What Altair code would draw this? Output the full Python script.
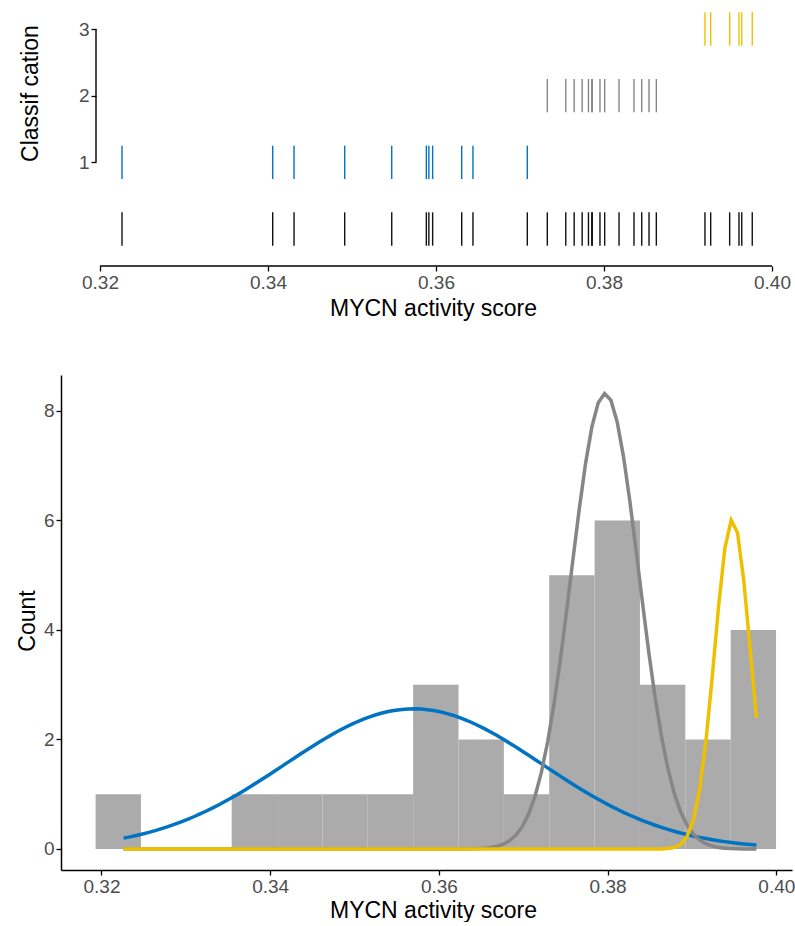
import altair as alt
import pandas as pd

# ---- data ----
class1_scores = [0.32262, 0.34056, 0.34310, 0.34913, 0.35473, 0.35885, 0.35915,
                 0.35960, 0.36306, 0.36440, 0.37087]
class2_scores = [0.37325, 0.37545, 0.37645, 0.37740, 0.37815, 0.37855, 0.37860,
                 0.37952, 0.38008, 0.38179, 0.38357, 0.38449, 0.38536, 0.38623]
class3_scores = [0.39202, 0.39270, 0.39496, 0.39607, 0.39640, 0.39765]
classes = [1, 2, 3]
class_colors = ["#0073C2", "#868686", "#EFC000"]

# fitted normal components (mean, sd, peak height in counts)
fit_means = [0.3570, 0.3797, 0.3948]
fit_sds = [0.0152, 0.0040, 0.0021]
fit_peaks = [2.56, 8.32, 6.02]
curve_points = 101

x_ticks = [0.32, 0.34, 0.36, 0.38, 0.40]
class_ticks = [1, 2, 3]
count_ticks = [0, 2, 4, 6, 8]
hist_start = 0.3193
hist_step = 0.005378
hist_bins = 15

FONT = "Liberation Sans"
W = 731
TOP_H = 261
BOT_H = 495

rows = []
for c, vals in zip(classes, [class1_scores, class2_scores, class3_scores]):
    for v in vals:
        rows.append({"score": v, "cls": c})
df = pd.DataFrame(rows)
xmin = float(df["score"].min())
xmax = float(df["score"].max())

color_scale = alt.Scale(domain=classes, range=class_colors)

# ---------------- top: rug plot ----------------
x_top = alt.Scale(domain=[0.315357, 0.402381], nice=False, zero=False)
y_top = alt.Scale(domain=[-0.555, 3.36], nice=False, zero=False)

rug_cls = alt.Chart(df).transform_calculate(
    lo="datum.cls - 0.25", hi="datum.cls + 0.25"
).mark_rule(strokeWidth=1.4).encode(
    x=alt.X("score:Q", scale=x_top,
            axis=alt.Axis(values=x_ticks, format=".2f", domain=False,
                          title="MYCN activity score", titlePadding=5,
                          titleX=372)),
    y=alt.Y("lo:Q", scale=y_top,
            axis=alt.Axis(values=class_ticks, format="d", domain=False, offset=-35,
                          title="Classif cation", titleX=-59, titleY=88,
                          titleBaseline="alphabetic")),
    y2="hi:Q",
    color=alt.Color("cls:N", scale=color_scale, legend=None),
)

rug_all = alt.Chart(df).transform_calculate(
    lo="-0.25", hi="0.25"
).mark_rule(strokeWidth=1.4, color="#111111").encode(
    x=alt.X("score:Q", scale=x_top),
    y=alt.Y("lo:Q", scale=y_top),
    y2="hi:Q",
)

one = alt.Data(values=[{"k": 0}])
x_axis_line = alt.Chart(one).mark_rule(color="black", strokeWidth=1.4).encode(
    x=alt.datum(x_ticks[0], scale=x_top), x2=alt.datum(x_ticks[-1]),
    y=alt.value(TOP_H),
)
y_axis_line = alt.Chart(one).mark_rule(color="black", strokeWidth=1.4).encode(
    x=alt.value(35),
    y=alt.datum(class_ticks[0], scale=y_top), y2=alt.datum(class_ticks[-1]),
)

top = alt.layer(rug_all, rug_cls, x_axis_line, y_axis_line).properties(
    width=W, height=TOP_H)

# ---------------- bottom: histogram + fitted curves ----------------
x_bot = alt.Scale(domain=[0.315199, 0.401862], nice=False, zero=False)
y_bot = alt.Scale(domain=[-0.3836, 8.6575], nice=False, zero=False)

hist = alt.Chart(df).transform_bin(
    "b", "score",
    bin=alt.Bin(extent=[hist_start, hist_start + hist_bins * hist_step],
                step=hist_step, nice=False),
).transform_aggregate(
    n="count()", groupby=["b", "b_end"]
).mark_rect(color="#ABABAB").encode(
    x=alt.X("b:Q", scale=x_bot,
            axis=alt.Axis(values=x_ticks, format=".2f",
                          title="MYCN activity score", titlePadding=3,
                          titleX=372)),
    x2="b_end:Q",
    y=alt.Y("n:Q", scale=y_bot,
            axis=alt.Axis(values=count_ticks, format="d", title="Count",
                          titleX=-27, titleY=BOT_H / 2 - 2,
                          titleBaseline="alphabetic")),
    y2=alt.datum(0),
)

curves = []
step = (xmax - xmin) / (curve_points - 1)
for i in range(3):
    mu, sd, pk = fit_means[i], fit_sds[i], fit_peaks[i]
    c = alt.Chart(alt.sequence(0, curve_points, as_="i")).transform_calculate(
        x=f"{xmin} + datum.i * {step}",
    ).transform_calculate(
        y=f"{pk} * exp(-pow(datum.x - {mu}, 2) / (2 * {sd} * {sd}))",
    ).mark_line(color=class_colors[i], strokeWidth=3.5).encode(
        x=alt.X("x:Q", scale=x_bot),
        y=alt.Y("y:Q", scale=y_bot),
    )
    curves.append(c)

bottom = alt.layer(hist, *curves).properties(width=W, height=BOT_H)

chart = alt.vconcat(top, bottom, spacing=109, bounds="flush").resolve_scale(
    x="independent", y="independent"
).properties(
    padding={"left": 16, "top": 5, "right": 0, "bottom": 0},
    background="white",
).configure_view(stroke=None).configure_axis(
    grid=False,
    labelFont=FONT, labelFontSize=19, labelColor="#4D4D4D",
    titleFont=FONT, titleFontSize=23, titleColor="black", titleFontWeight="normal",
    domainColor="black", domainWidth=1.5, tickColor="black", tickWidth=1.3,
    tickSize=5, labelPadding=2,
)

chart.save("out.html", embed_options={"renderer": "svg", "actions": False})
